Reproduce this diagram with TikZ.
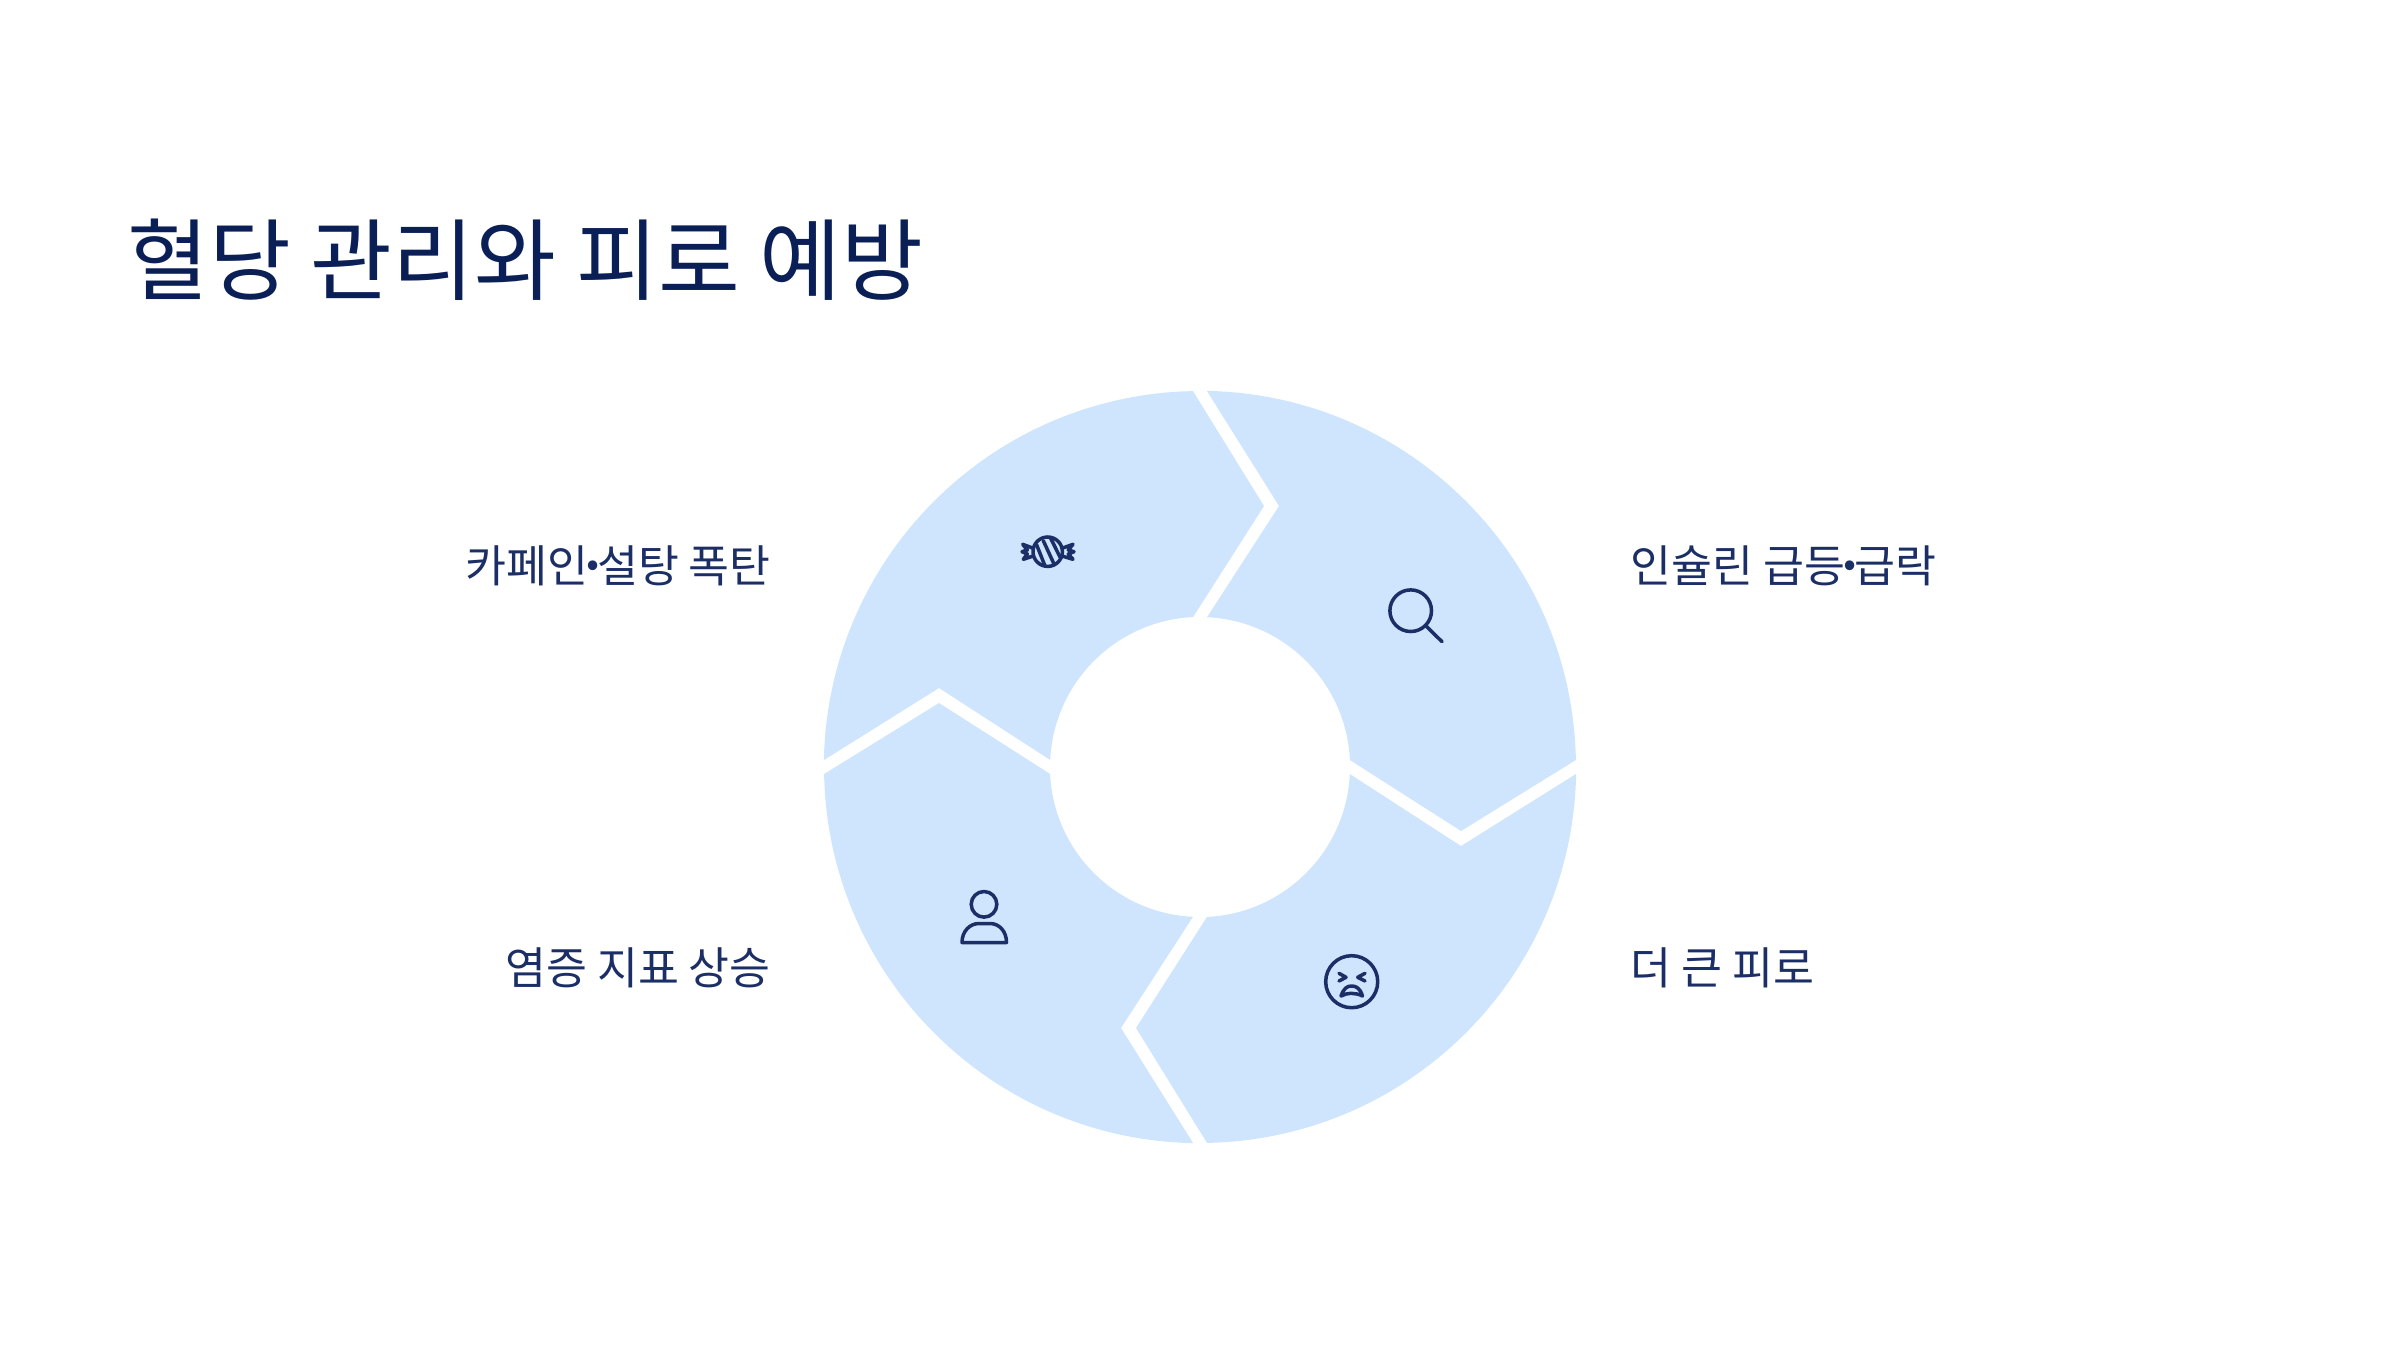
\documentclass[tikz,border=0pt]{standalone}
\usepackage{fontspec}
\setmainfont{Noto Sans CJK KR}
\definecolor{ringfill}{HTML}{CFE5FD}
\definecolor{titleink}{HTML}{0B1F57}
\definecolor{labelink}{HTML}{1B2F66}
\newcommand{\narrowdot}{\hspace{-2.6pt}{\bfseries ·}\hspace{-2.6pt}}
\tikzset{
  ringpiece/.style={fill=ringfill,draw=none},
  icon/.style={draw=labelink,line width=1pt,line cap=round,line join=round,fill=none},
  titletext/.style={text=titleink,inner sep=0pt,font=\fontsize{25.3pt}{30pt}\selectfont},
  labeltext/.style={text=labelink,inner sep=0pt,font=\fontsize{12.65pt}{15pt}\selectfont}
}
\begin{document}
\begin{tikzpicture}[x=0.01cm,y=0.01cm]
\useasboundingbox (0,0) rectangle (2400,1350);
% ring pieces (y up, centred)
\begin{scope}[shift={(1200,583)}]
\foreach \r in {0,-90,-180,-270}{
  \fill[ringpiece,rotate=\r] (7,375.9) -- (79,261) -- (7,149.8)
    arc[start angle=87.33,end angle=2.67,radius=1.5cm]
    -- (149.8,7) -- (261,-64) -- (375.9,7)
    arc[start angle=1.07,end angle=88.93,radius=3.76cm] -- cycle;
}
\end{scope}
% everything else in reference pixel coordinates (y down)
\begin{scope}[shift={(0,1350)},yscale=-1]
\node[titletext,anchor=base west] (title) at (126.5,293) {혈당 관리와 피로 예방};
\node[labeltext,anchor=base east] (lab1) at (771.5,582) {카페인\narrowdot 설탕 폭탄};
\node[labeltext,anchor=base east] (lab4) at (771.5,984) {염증 지표 상승};
\node[labeltext,anchor=base west] (lab2) at (1630,582) {인슐린 급등\narrowdot 급락};
\node[labeltext,anchor=base west] (lab3) at (1630,984) {더 큰 피로};
% candy
\draw[icon] (1047.7,551.7) circle[radius=0.147cm];
\draw[icon] (1036.7,545) -- (1045,566);
\draw[icon] (1043.3,540.7) -- (1054,564);
\draw[icon] (1050.7,538.3) -- (1060,557);
\draw[icon] (1033.3,548.3) -- (1022.7,544.3) -- (1027.3,550) -- (1022,551.7) -- (1027.3,554) -- (1023.3,559.3) -- (1033.3,556);
\draw[icon] (1062,548.3) -- (1073,544.3) -- (1068.3,550) -- (1074,551.7) -- (1068.3,554) -- (1073,559.3) -- (1062,556);
% magnifier
\draw[icon] (1410.7,610.7) circle[radius=0.208cm];
\draw[icon] (1426,626) -- (1442,641.7);
% face
\draw[icon] (1351.7,981.7) circle[radius=0.26cm];
\draw[icon] (1339,973.3) -- (1346,977.3) -- (1339,981);
\draw[icon] (1365,973.3) -- (1357.7,977.3) -- (1365,981);
\draw[icon] (1341,996) .. controls (1344,988) and (1347,986) .. (1351.7,986)
  .. controls (1356,986) and (1360,988) .. (1362.5,996)
  .. controls (1356,992.5) and (1347,992.5) .. cycle;
% person
\draw[icon] (984,904.3) circle[radius=0.128cm];
\draw[icon] (962,942.5) .. controls (962,931) and (970,923.5) .. (979,923.5)
  -- (990,923.5) .. controls (999,923.5) and (1006.5,931) .. (1006.5,942.5) -- cycle;
\end{scope}
\end{tikzpicture}
\end{document}
